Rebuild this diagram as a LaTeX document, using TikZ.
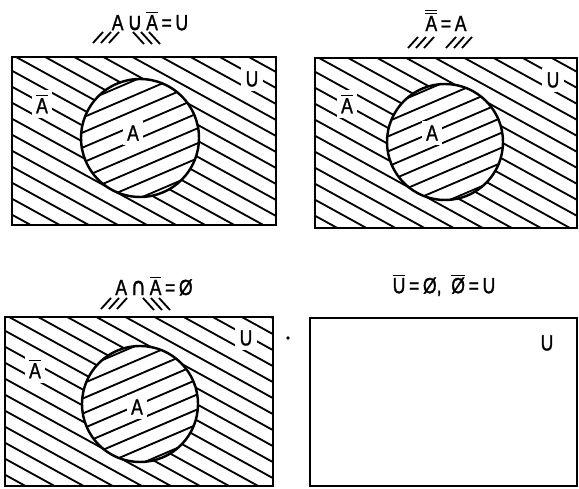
\documentclass[tikz,border=0pt]{standalone}
\usepackage{fontspec}
\setmainfont[FakeStretch=0.8,FakeBold=1.2]{Liberation Sans}
\newfontfamily\symf[FakeStretch=0.85,FakeBold=1.2]{DejaVu Sans}
\newcommand\bA{$\overline{\mbox{A}}$}
\newcommand\vennpanel[7]{%
  \begin{scope}[even odd rule]
    \clip (#1,#2) rectangle (#3,#4) (#5,#6) circle[radius=#7];
    \foreach \k in {-165,-149,...,185} \draw[hatch] (#1-5,#2+\k) -- ++(420,231);
  \end{scope}
  \begin{scope}
    \clip (#5,#6) circle[radius=#7];
    \foreach \k in {-135,-120,...,140} \draw[hatch] (#5-70,#6+\k) -- ++(140,-60);
  \end{scope}
  \draw[frame] (#1,#2) rectangle (#3,#4);
  \draw[ring] (#5,#6) circle[radius=#7];
}
\newcommand\fwdmarks[2]{\foreach \i in {0,1,2} \draw[mark stroke] (#1+\i*8,#2+6) -- ++(10,-11);}
\newcommand\bckmarks[2]{\foreach \i in {0,1,2} \draw[mark stroke] (#1+\i*8,#2-6) -- ++(11,12);}
\begin{document}
\begin{tikzpicture}[x=0.02cm,y=-0.02cm,
  frame/.style={line width=1.7pt},
  ring/.style={line width=1.4pt},
  hatch/.style={line width=1.05pt},
  mark stroke/.style={line width=1.05pt},
  lbl/.style={fill=white,inner sep=2.5pt,font=\fontsize{12.5}{13}\selectfont},
  ttl/.style={inner sep=0pt,font=\fontsize{12.5}{13}\selectfont}]
\useasboundingbox (0,0) rectangle (579,489);

% Panel 1
\vennpanel{12}{57}{276}{225}{140}{138}{59}
\node[lbl] (p1Ac) at (42,104) {\bA};
\node[lbl] (p1A) at (133,133) {A};
\node[lbl] (p1U) at (252,79) {U};
\node[ttl] (t1) at (150,21) {A\,{\symf\fontsize{14}{14}\selectfont ∪}\,\bA\,=\,U};
\fwdmarks{93}{37}
\bckmarks{133}{38}

% Panel 2
\vennpanel{315}{58}{577}{228}{445}{142}{58}
\node[lbl] (p2Ac) at (347,104) {\bA};
\node[lbl] (p2A) at (432,133) {A};
\node[lbl] (p2U) at (553,80) {U};
\node[ttl] (t2) at (446,20) {$\overline{\overline{\mbox{A}}}$\,=\,A};
\fwdmarks{408}{42}
\fwdmarks{446}{42}

% Panel 3
\vennpanel{5}{317}{273}{486}{140}{404}{58}
\node[lbl] (p3Ac) at (35,369) {\bA};
\node[lbl] (p3A) at (137,407) {A};
\node[lbl] (p3U) at (246,338) {U};
\node[ttl] (t3) at (154,286) {A\,{\symf\fontsize{14}{14}\selectfont ∩}\,\bA\,=\,Ø};
\fwdmarks{101}{303}
\bckmarks{143}{304}
\fill (288,338) circle[radius=1.8];

% Panel 4
\draw[frame] (310,318) rectangle (577,486);
\node[ttl] (p4U) at (547,343) {U};
\node[ttl] (t4) at (444,285) {$\overline{\mbox{U}}$\,=\,Ø,\ \ $\overline{\mbox{Ø}}$\,=\,U};
\end{tikzpicture}
\end{document}
